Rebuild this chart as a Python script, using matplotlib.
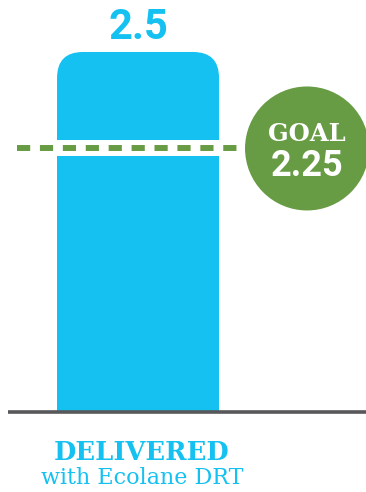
import numpy as np
import matplotlib
matplotlib.use('Agg')
import matplotlib.pyplot as plt
from matplotlib.patches import FancyBboxPatch, Ellipse

# ---- data
categories = ['DELIVERED']
subtitle = 'with Ecolane DRT'
values = [2.5]
goal_value = 2.25
goal_label = 'GOAL'
goal_level = 1.83     # where the goal marker sits on the drawing (not to scale in the original)

# ---- style
cyan  = '#14c1f1'
green = '#689c44'
grey  = '#58585a'
plt.rcParams['lines.scale_dashes'] = False

fig = plt.figure(figsize=(3.66, 4.92), dpi=100)
ax = fig.add_axes([0, 0, 1, 1])
ax.set_xlim(-0.852, 1.407)
ax.set_ylim(-0.5556, 2.861)
ax.axis('off')

bw = 1.0
rx = 0.16   # corner radius in x units
ry = 0.18   # corner radius in y units
for i, v in enumerate(values):
    ax.bar(i, v - 0.5, width=bw, color=cyan, align='center', zorder=2)
    ax.add_patch(FancyBboxPatch((i - bw/2, v - 0.8), bw, 0.8,
                                boxstyle='round,pad=0,rounding_size=%g' % rx,
                                mutation_aspect=ry/rx, fc=cyan, ec='none', zorder=2))
    ax.text(i, v + 0.17, ('%g' % v), ha='center', va='center', color=cyan,
            fontsize=30, fontweight='bold', family='Roboto')
    ax.text(i + 0.025, -0.28, categories[i], ha='center', va='center', color=cyan,
            fontsize=18.5, fontweight='bold', family='DejaVu Serif')
    ax.text(i + 0.025, -0.46, subtitle, ha='center', va='center', color=cyan,
            fontsize=16, fontweight='light', family='DejaVu Serif')

# baseline
ax.plot([-0.8, 1.407], [0, 0], color=grey, lw=2.6, solid_capstyle='butt', zorder=3)

# goal marker
cx = 1.043
ax.plot([-0.5, 0.5], [goal_level, goal_level], color='white', lw=11.5,
        solid_capstyle='butt', zorder=3)
ax.plot([-0.747, cx], [goal_level, goal_level], color=green, lw=4.3,
        dashes=(9.5, 7.0), dash_capstyle='butt', zorder=4)
ax.add_patch(Ellipse((cx, goal_level), 124/162., 124/144., fc=green, ec='none', zorder=5))
ax.text(cx, goal_level + 0.1, goal_label, ha='center', va='center', color='white',
        fontsize=17.5, fontweight='bold', family='DejaVu Serif', zorder=6)
ax.text(cx, goal_level - 0.12, '%g' % goal_value, ha='center', va='center', color='white',
        fontsize=26, fontweight='bold', family='Roboto', zorder=6)

plt.savefig('out.png', dpi=100)
